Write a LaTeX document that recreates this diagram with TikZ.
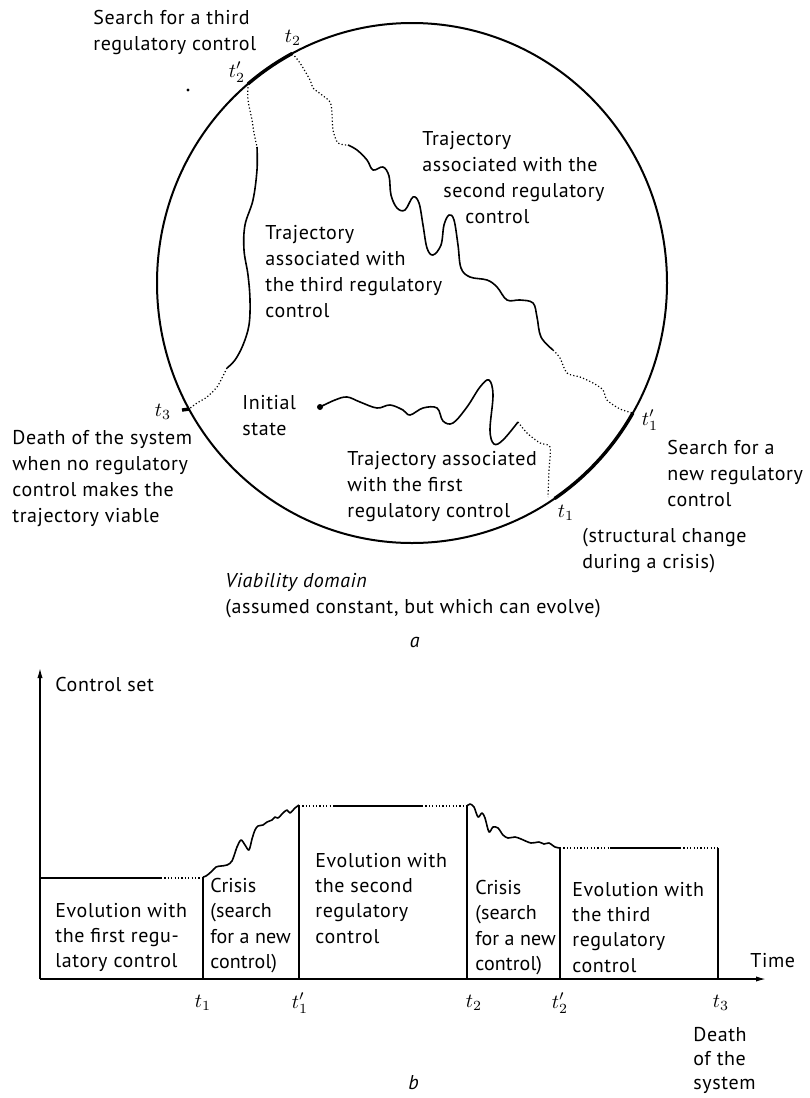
\documentclass[tikz,border=0pt]{standalone}
\usepackage{fontspec}
\setmainfont{PT Sans}[LetterSpace=3]
\usepackage{tikz}
\usetikzlibrary{arrows.meta,calc}

\begin{document}
\begin{tikzpicture}[x=0.5pt,y=-0.5pt,
     txt/.style={anchor=north west,align=left,inner sep=0pt,
       font=\fontsize{10}{13}\selectfont},
     btxt/.style={txt,font=\fontsize{10}{12.6}\selectfont},
     ctxt/.style={txt,font=\fontsize{10}{12.6}\selectfont\addfontfeature{LetterSpace=0.5}},
     tlab/.style={inner sep=0pt,font=\fontsize{10}{12}\selectfont},
     rim/.style={line width=1pt},
     heavy/.style={line width=1.7pt},
     traj/.style={line width=0.8pt,line join=round},
     dots/.style={line width=0.6pt,dash pattern=on 0.6pt off 1.1pt},
     bar/.style={line width=0.7pt}]
    \useasboundingbox (0,0) rectangle (809,1098);
    \coordinate (c) at (412,283);
    \draw[rim] (c) ellipse [x radius=255,y radius=260];
    \coordinate (t2) at ($(c)+(-118:255 and 260)$);
    \coordinate (t2p) at ($(c)+(-130:255 and 260)$);
    \coordinate (t3) at ($(c)+(-209:255 and 260)$);
    \coordinate (t1p) at ($(c)+(30:255 and 260)$);
    \coordinate (t1) at ($(c)+(56:255 and 260)$);
    \draw[heavy] (t2p) arc [start angle=-130,end angle=-118,x radius=255,y radius=260];
    \draw[heavy] (t1) arc [start angle=56,end angle=30,x radius=255,y radius=260];
    \draw[heavy] (t3) -- ++(-7,1);
    \fill (188,90) circle [radius=1.6];
    \node[tlab] (lt2) at (293,38) {$t_2$};
    \node[tlab] (lt2p) at (237,72) {$t'_2$};
    \node[tlab] (lt3) at (163,412) {$t_3$};
    \node[tlab] (lt1p) at (650,420) {$t'_1$};
    \node[tlab] (lt1) at (566,513) {$t_1$};
    \fill (320,407) circle [radius=3];
    \draw[traj] plot[smooth,tension=0.6] coordinates {(320,407) (335,400) (347,397)
      (360,402) (377,408) (390,405) (403,410) (410,415) (423,408) (437,408)
      (443,421) (453,423) (467,407) (480,387) (489,380) (493,395) (490,430)
      (494,444) (503,440) (518,422)};
    \draw[dots] plot[smooth,tension=0.5] coordinates {(518,422) (527,433)
      (540,443) (550,447) (549,470) (548,497)};
    \draw[dots] plot[smooth,tension=0.5] coordinates {(t2) (300,63) (310,80)
      (313,88) (322,95) (330,102) (332,113) (333,130) (338,143) (348,145)};
    \draw[traj] plot[smooth,tension=0.6] coordinates {(348,145) (357,150)
      (367,160) (373,170) (383,167) (389,176) (391,195) (397,208) (405,210)
      (413,197) (419,203) (423,225) (427,248) (433,255) (441,245) (444,225)
      (449,215) (454,220) (458,245) (461,268) (470,277) (487,280) (497,287)
      (507,300) (520,300) (533,303) (537,317) (541,337) (553,350)};
    \draw[dots] plot[smooth,tension=0.5] coordinates {(553,350) (560,358)
      (567,373) (580,377) (593,383) (603,390) (607,400) (620,409) (t1p)};
    \draw[dots] plot[smooth,tension=0.5] coordinates {(t2p) (248,100) (252,120)
      (254,133) (257,147)};
    \draw[traj] plot[smooth,tension=0.6] coordinates {(257,147) (257,170)
      (253,200) (245,225) (244,250) (248,275) (250,300) (249,325) (243,345)
      (235,360) (227,368)};
    \draw[dots] plot[smooth,tension=0.5] coordinates {(227,368) (222,378)
      (217,387) (207,397) (197,403) (t3)};
    \node[txt] (search3) at (93,10) {Search for a third\\regulatory control};
    \node[txt] (traj2) at (422,131) {Trajectory\\associated with the\\
      \hspace*{10.5pt}second regulatory\\\hspace*{21.5pt}control};
    \node[txt] (traj3) at (265,225) {Trajectory\\associated with\\the third regulatory\\control};
    \node[txt] (init) at (242,395) {Initial\\state};
    \node[txt] (death) at (12,430) {Death of the system\\when no regulatory\\
      control makes the\\trajectory viable};
    \node[txt] (traj1) at (347,451) {Trajectory associated\\with the first\\regulatory control};
    \node[txt] (search1) at (667,440) {Search for a\\new regulatory\\control};
    \node[txt] (struct) at (582,528) {(structural change\\during a crisis)};
    \node[txt] (viab) at (225,573) {\textit{Viability domain}\\(assumed constant, but which can evolve)};
    \node[tlab] (capa) at (415,642) {\textit{a}};
    \coordinate (o) at (40,979);
    \draw[bar,-{Latex[length=5pt,width=2.6pt]}] (o) -- (40,668);
    \draw[bar,-{Latex[length=5pt,width=2.6pt]}] (o) -- (766,979);
    \draw[bar] (40,878) -- (161,878);
    \draw[dots] (161,878) -- (203,878);
    \draw[bar] (203,979) -- (203,877);
    \draw[traj] plot[smooth,tension=0.5] coordinates {(203,877) (206,876)
      (211,872) (216,867) (221,866) (227,865) (232,861) (237,847) (241,840)
      (245,845) (249,850) (252,839) (255,830) (258,826) (263,825) (267,822)
      (272,820) (275,817) (278,818) (283,813) (287,810) (290,813) (295,808)
      (299,805)};
    \draw[bar] (299,979) -- (299,805);
    \draw[dots] (299,806) -- (333,806);
    \draw[bar] (333,806) -- (422,806);
    \draw[dots] (422,806) -- (467,806);
    \draw[bar] (467,979) -- (467,806);
    \draw[traj] plot[smooth,tension=0.5] coordinates {(467,806) (470,804)
      (474,807) (478,817) (482,813) (485,818) (489,832) (493,827) (498,828)
      (503,835) (508,838) (515,837) (521,839) (531,843) (539,842) (544,844)
      (549,843) (555,847) (560,848)};
    \draw[bar] (560,979) -- (560,848);
    \draw[dots] (560,848) -- (610,848);
    \draw[bar] (610,848) -- (680,848);
    \draw[dots] (680,848) -- (718,848);
    \draw[bar] (718,979) -- (718,848);
    \node[txt] (cset) at (55,677) {Control set};
    \node[btxt] (box1) at (55,903) {Evolution with\\the first regu-\\latory control};
    \node[ctxt] (box2) at (210,878) {Crisis\\(search\\for a new\\control)};
    \node[btxt] (box3) at (315,853) {Evolution with\\the second\\regulatory\\control};
    \node[ctxt] (box4) at (475,880) {Crisis\\(search\\for a new\\control)};
    \node[btxt] (box5) at (572,882) {Evolution with\\the third\\regulatory\\control};
    \node[txt] (time) at (750,953) {Time};
    \node[tlab] (bt1) at (203,1003) {$t_1$};
    \node[tlab] (bt1p) at (300,1003) {$t'_1$};
    \node[tlab] (bt2) at (474,1003) {$t_2$};
    \node[tlab] (bt2p) at (560,1003) {$t'_2$};
    \node[tlab] (bt3) at (721,1003) {$t_3$};
    \node[txt,font=\fontsize{10}{12}\selectfont] (bdeath) at (693,1027) {Death\\of the\\system};
    \node[tlab] (capb) at (414,1083) {\textit{b}};
  \end{tikzpicture}
\end{document}
